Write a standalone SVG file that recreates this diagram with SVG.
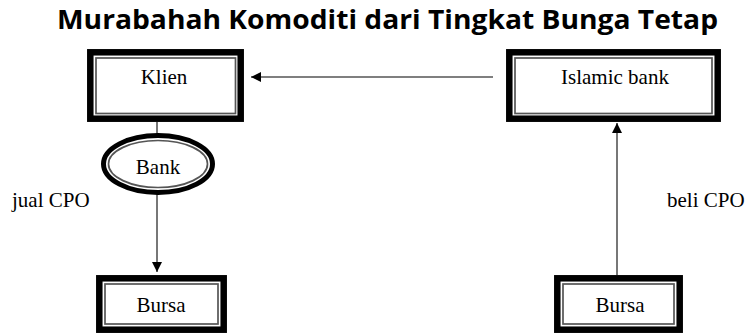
<svg xmlns="http://www.w3.org/2000/svg" width="748" height="333" viewBox="0 0 748 333">
  <style>
    .title { font-family: "Open Sans", "DejaVu Sans", sans-serif; font-weight: bold; font-size: 27px; fill: #000; }
    .lbl { font-family: "Liberation Serif", "Times New Roman", serif; font-size: 21px; fill: #000; }
    .outer { fill: #fff; stroke: #000; stroke-width: 6.5; }
    .inner { fill: none; stroke: #555; stroke-width: 1.7; }
    .conn { stroke: #555; stroke-width: 1.6; fill: none; }
  </style>
  <defs>
    <marker id="arrow" viewBox="0 0 10 10" refX="10" refY="5" markerWidth="10" markerHeight="10" markerUnits="userSpaceOnUse" orient="auto">
      <path d="M0,0 L10,5 L0,10 Z" fill="#000"/>
    </marker>
  </defs>

  <rect width="748" height="333" fill="#fff"/>

  <text class="title" x="57" y="29" textLength="661" lengthAdjust="spacingAndGlyphs">Murabahah Komoditi dari Tingkat Bunga Tetap</text>

  <!-- connectors -->
  <g id="connectors">
    <line class="conn" x1="493" y1="77" x2="251" y2="77" marker-end="url(#arrow)"/>
    <line class="conn" x1="157" y1="122" x2="157" y2="134"/>
    <line class="conn" x1="157" y1="194" x2="157" y2="272" marker-end="url(#arrow)"/>
    <line class="conn" x1="617" y1="275" x2="617" y2="123" marker-end="url(#arrow)"/>
  </g>

  <g id="klien">
    <rect class="outer" x="90.3" y="52.3" width="150.4" height="66.4"/>
    <rect class="inner" x="96" y="58" width="139.5" height="55.5"/>
    <text class="lbl" x="164" y="84" text-anchor="middle">Klien</text>
  </g>

  <g id="islamic-bank">
    <rect class="outer" x="509.3" y="52.3" width="208.4" height="66.4"/>
    <rect class="inner" x="515" y="58" width="197" height="55.5"/>
    <text class="lbl" x="615" y="84" text-anchor="middle">Islamic bank</text>
  </g>

  <g id="bank">
    <ellipse cx="158" cy="164" rx="54.5" ry="28.5" fill="#fff" stroke="#000" stroke-width="5"/>
    <ellipse class="inner" cx="158" cy="164" rx="49.5" ry="23.5"/>
    <text class="lbl" x="158" y="174" text-anchor="middle">Bank</text>
  </g>

  <g id="bursa-left">
    <rect class="outer" x="99.3" y="278.3" width="124.4" height="51.4"/>
    <rect class="inner" x="105" y="284" width="113" height="40"/>
    <text class="lbl" x="161" y="312" text-anchor="middle">Bursa</text>
  </g>

  <g id="bursa-right">
    <rect class="outer" x="557.3" y="278.3" width="122.4" height="51.4"/>
    <rect class="inner" x="563" y="284" width="111" height="40"/>
    <text class="lbl" x="620" y="312" text-anchor="middle">Bursa</text>
  </g>

  <text class="lbl" x="12" y="207">jual CPO</text>
  <text class="lbl" x="667" y="207">beli CPO</text>
</svg>
